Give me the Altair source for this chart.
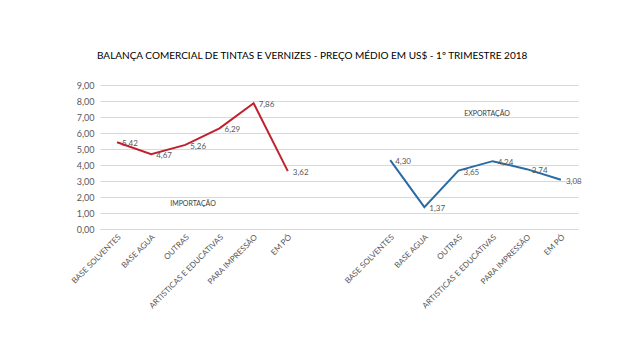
import altair as alt
import pandas as pd

categories = ["BASE SOLVENTES", "BASE AGUA", "OUTRAS", "ARTISTICAS E EDUCATIVAS",
              "PARA IMPRESSÃO", "EM PÓ"]
importacao = [5.42, 4.67, 5.26, 6.29, 7.86, 3.62]
exportacao = [4.30, 1.37, 3.65, 4.24, 3.74, 3.08]
axis_labels = categories + ["", ""] + categories
gap = 2

rows = []
for i, v in enumerate(importacao):
    rows.append({"idx": i, "valor": v, "serie": "Importação"})
for i, v in enumerate(exportacao):
    rows.append({"idx": i + len(categories) + gap, "valor": v, "serie": "Exportação"})
df = pd.DataFrame(rows)
df["rotulo"] = df["valor"].map(lambda v: f"{v:.2f}".replace(".", ","))

n = len(axis_labels)
label_array = "[" + ",".join("'" + s + "'" for s in axis_labels) + "]"

FONT = "Lato"
GREY = "#595959"

x_enc = alt.X(
    "idx:O",
    bandPosition=0.5,
    scale=alt.Scale(type="band", domain=list(range(n)), paddingInner=0, paddingOuter=0),
    axis=alt.Axis(
        title=None,
        labelAngle=-45,
        labelExpr=label_array + "[datum.value]",
        ticks=False,
        domainColor="#d9d9d9",
        labelColor=GREY,
        labelFont=FONT,
        labelFontSize=8,
        labelPadding=4,
        grid=False,
    ),
)
y_enc = alt.Y(
    "valor:Q",
    scale=alt.Scale(domain=[0, 9], nice=False),
    axis=alt.Axis(
        title=None,
        values=list(range(0, 10)),
        labelExpr="replace(format(datum.value, '.2f'), '.', ',')",
        domain=False,
        ticks=False,
        tickSize=0,
        gridColor="#d9d9d9",
        labelColor=GREY,
        labelFont=FONT,
        labelFontSize=9,
        labelPadding=6,
    ),
)
color_enc = alt.Color(
    "serie:N",
    scale=alt.Scale(domain=["Importação", "Exportação"], range=["#C0212F", "#2A6BA3"]),
    legend=None,
)

base = alt.Chart(df)
lines = base.mark_line(strokeWidth=2).encode(x=x_enc, y=y_enc, color=color_enc, detail="serie:N")
labels = base.mark_text(align="left", baseline="middle", dx=5, dy=2, fontSize=8,
                        font=FONT, color=GREY).encode(x=x_enc, y=y_enc, text="rotulo:N")

ann_imp = alt.Chart(pd.DataFrame({"t": ["IMPORTAÇÃO"]})).mark_text(
    fontSize=7, font=FONT, color="#404040").encode(
    x=alt.value(93), y=alt.value(119), text="t:N")
ann_exp = alt.Chart(pd.DataFrame({"t": ["EXPORTAÇÃO"]})).mark_text(
    fontSize=7, font=FONT, color="#404040").encode(
    x=alt.value(387), y=alt.value(29), text="t:N")

chart = alt.layer(lines, labels, ann_imp, ann_exp).properties(
    width=478,
    height=144,
    background="white",
    autosize=alt.AutoSizeParams(type="none"),
    padding={"left": 92, "top": 77, "right": 54, "bottom": 120},
    title=alt.TitleParams(
        "BALANÇA COMERCIAL DE TINTAS E VERNIZES - PREÇO MÉDIO EM US$ -  1º TRIMESTRE 2018",
        anchor="start", frame="group", dx=-3, offset=20, font=FONT, fontSize=10,
        fontWeight="normal", color="#000000",
    ),
).configure_view(stroke="white", strokeWidth=0)

chart.save("out.html", embed_options={"renderer": "svg", "actions": False})
